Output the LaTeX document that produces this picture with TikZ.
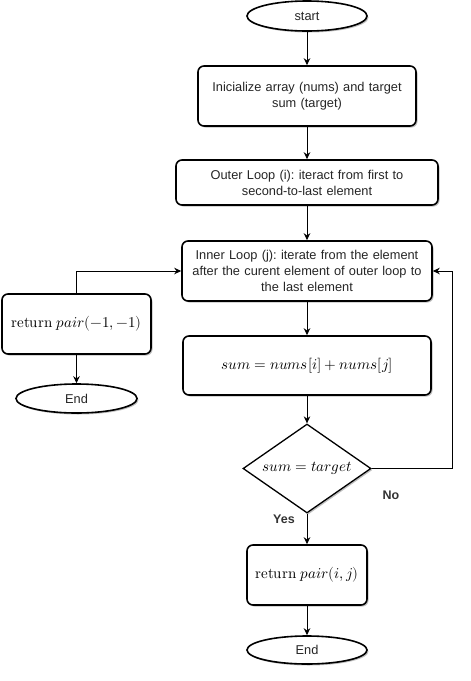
\documentclass[tikz,border=0pt]{standalone}
\usepackage{fontspec}
\setmainfont{Liberation Sans}
\usepackage{unicode-math}
\setmathfont{Latin Modern Math}
\usetikzlibrary{shapes.geometric,arrows.meta,shadows}
\frenchspacing
\begin{document}
\begin{tikzpicture}[x=1pt,y=-1pt,
  every node/.style={font=\fontsize{12.8}{16}\selectfont,text=black!85},
  mth/.style={font=\fontsize{15}{17}\selectfont,text=black},
  shd/.style={drop shadow={shadow xshift=1.5pt,shadow yshift=-1.5pt,fill=black,opacity=0.25}},
  proc/.style={draw=black,line width=1.6pt,rounded corners=6pt,fill=white,shd,align=center,inner sep=2pt},
  term/.style={draw=black,line width=1.6pt,ellipse,fill=white,shd,inner sep=0pt},
  dec/.style={draw=black,line width=1.3pt,diamond,fill=white,shd,inner sep=0pt,aspect=1.44,minimum width=128pt,minimum height=89pt},
  conn/.style={line width=1pt,-{Stealth[length=7pt,width=6.5pt]}},
  lbl/.style={font=\fontsize{12.5}{14}\selectfont\bfseries,text=black!80}
]
\useasboundingbox (0,0) rectangle (471,681);
\node[term,minimum width=120pt,minimum height=30pt] (start) at (307,16) {start};
\node[proc,minimum width=218pt,minimum height=60pt,text width=212pt] (init) at (307,96) {Inicialize array (nums) and target\\ sum (target)};
\node[proc,minimum width=262pt,minimum height=45pt,text width=252pt] (outer) at (307,182.5) {Outer Loop (i): iteract from first to\\ second-to-last element};
\node[proc,minimum width=248pt,minimum height=60pt,text width=246pt] (inner) at (307,271) {Inner Loop (j): iterate from the element\\ after the curent element of outer loop to\\ the last element};
\node[proc,mth,minimum width=248pt,minimum height=59pt] (sum) at (307,365.5) {$sum = nums[i] + nums[j]$};
\node[dec,mth] (dec) at (307,468.5) {$sum = target$};
\node[proc,mth,minimum width=120pt,minimum height=60pt] (ret) at (307,575) {$\symup{return}\ pair(i,j)$};
\node[term,minimum width=120pt,minimum height=28pt] (end) at (307,650) {End};
\node[proc,mth,minimum width=149pt,minimum height=60pt] (retm) at (76.5,324) {$\symup{return}\ pair(-1,-1)$};
\node[term,minimum width=121pt,minimum height=29pt] (endl) at (76.5,398.5) {End};
\coordinate (nocorner) at (452,468.5);
\node[lbl] (no) at (391,495) {No};
\node[lbl] (yes) at (284,519) {Yes};
\draw[conn] (start) -- (init);
\draw[conn] (init) -- (outer);
\draw[conn] (outer) -- (inner);
\draw[conn] (inner) -- (sum);
\draw[conn] (sum) -- (dec);
\draw[conn] (dec) -- (ret);
\draw[conn] (ret) -- (end);
\draw[conn] (retm) -- (endl);
\draw[conn] (retm.north) |- (inner.west);
\draw[conn] (dec.east) -- (nocorner) |- (inner.east);
\end{tikzpicture}
\end{document}
